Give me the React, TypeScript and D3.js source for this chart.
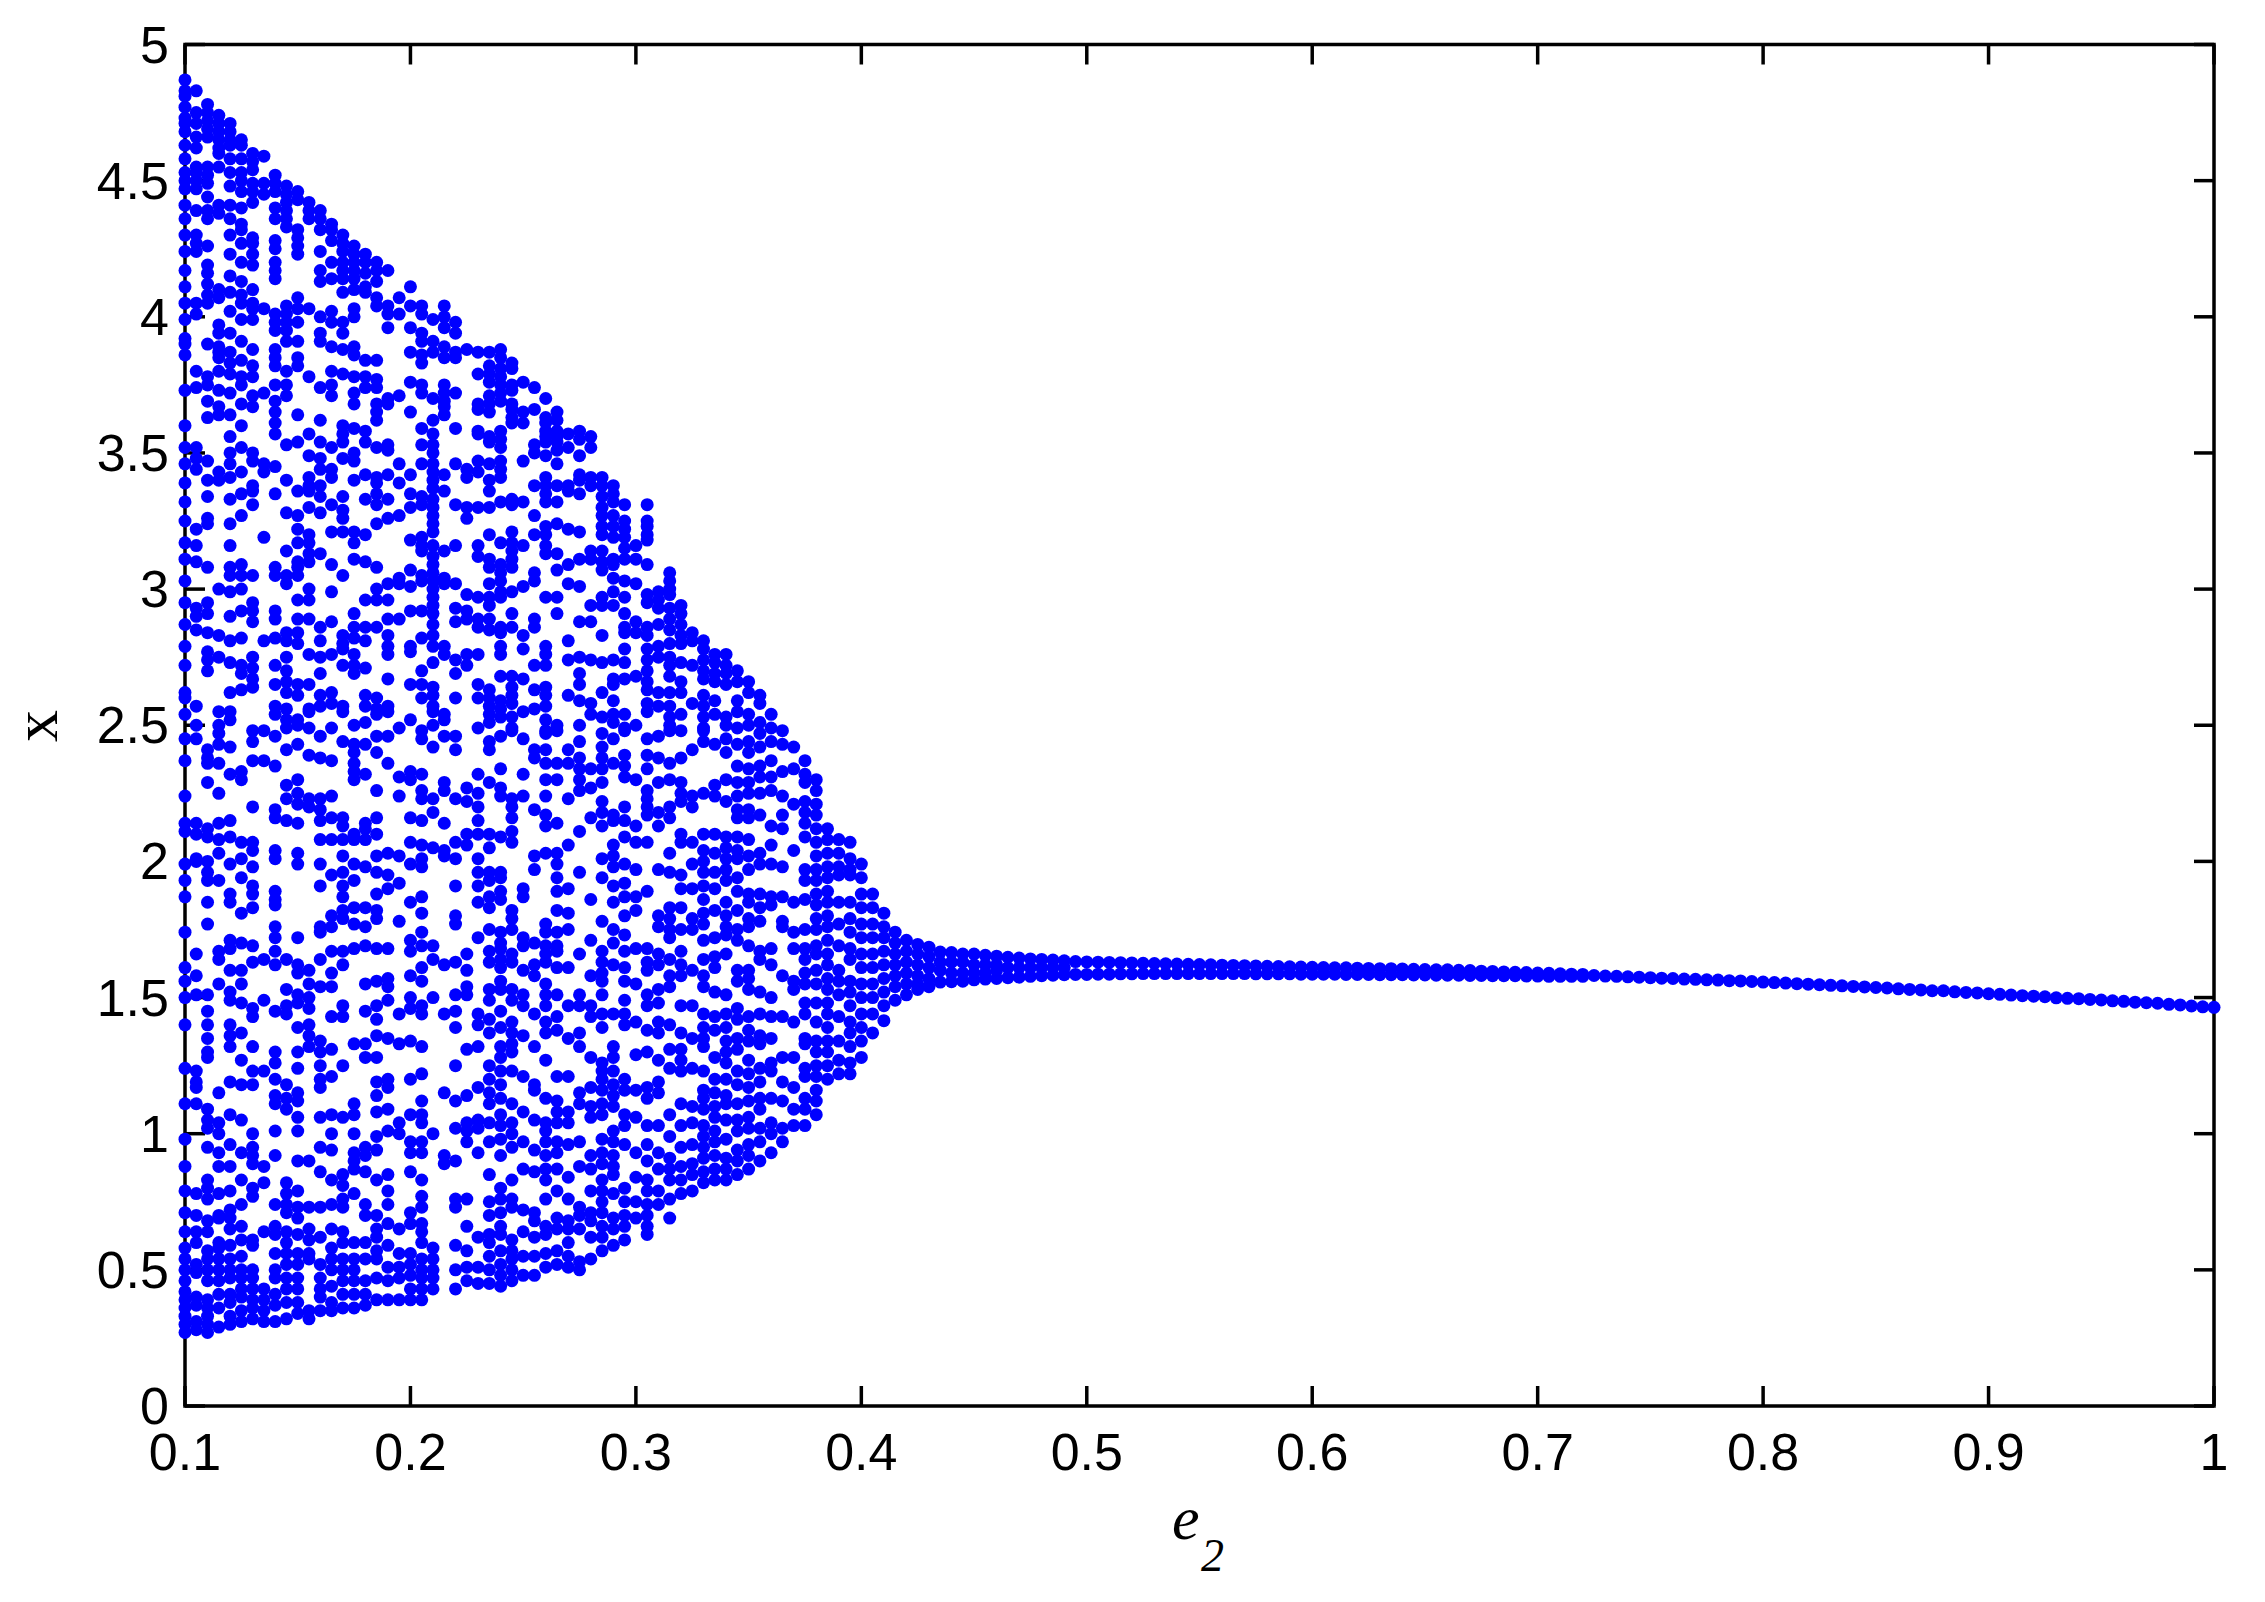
import React from "react";
import * as d3 from "d3";

const xTicks = [0.1, 0.2, 0.3, 0.4, 0.5, 0.6, 0.7, 0.8, 0.9, 1];
const xTickLabels = ["0.1", "0.2", "0.3", "0.4", "0.5", "0.6", "0.7", "0.8", "0.9", "1"];
const yTicks = [0, 0.5, 1, 1.5, 2, 2.5, 3, 3.5, 4, 4.5, 5];
const yTickLabels = ["0", "0.5", "1", "1.5", "2", "2.5", "3", "3.5", "4", "4.5", "5"];
const e2Start = 0.1;
const e2Step = 0.005;

// x attractor samples (x 100), one row per e2 column
const chaoticA: number[][] = [
[487,483,481,477,473,471,468,463,458,453,450,447,441,436,430,424,417,411,405,399,392,390,386,373,360,352,346,339,332,325,317,311,303,295,287,279,272,262,260,254,245,237,224,214,211,199,193,187,174,161,156,150,140,124,111,98,88,79,71,64,58,54,50,46,42,39,36,33,30,27],
[483,475,471,466,462,455,453,450,447,439,430,427,424,405,401,380,374,352,348,344,322,316,310,293,290,285,257,250,245,214,210,201,200,166,158,151,123,119,117,111,78,70,64,60,52,49,40,37,31,28],
[478,475,472,469,466,455,452,449,444,439,436,426,419,416,412,408,405,390,378,375,369,363,347,340,334,326,324,308,295,291,284,277,274,270,241,238,236,229,212,209,200,196,193,185,177,151,145,140,135,130,128,109,105,102,95,83,80,76,68,64,57,54,50,46,39,36,33,30,27],
[474,471,468,465,462,460,455,441,438,410,407,397,394,389,387,385,380,373,367,364,343,340,300,283,275,255,250,247,243,236,225,214,208,203,193,167,164,155,115,104,100,93,88,78,70,69,60,58,54,50,46,41,36,29],
[471,468,465,463,458,453,448,441,436,430,423,415,409,402,394,387,383,379,372,364,356,350,346,341,333,324,316,308,305,299,290,281,273,262,255,252,242,232,215,209,199,188,185,171,168,160,152,149,140,136,132,119,107,96,88,79,72,69,65,59,54,50,47,41,38,33,30],
[465,463,458,453,450,446,440,434,432,427,420,413,408,405,399,391,384,378,375,368,360,352,343,335,327,309,305,300,292,282,272,269,263,233,230,207,201,194,181,170,160,155,148,137,127,118,105,93,83,74,66,61,55,50,47,43,40,35,31],
[460,457,454,449,446,442,429,427,423,419,410,405,403,399,388,382,378,371,367,350,347,338,336,331,305,295,292,288,275,271,267,264,248,244,237,220,207,204,198,191,188,183,169,163,146,143,132,123,118,100,95,92,89,80,77,61,59,50,47,43,39,36,32],
[459,449,445,403,372,346,343,319,281,248,237,164,149,123,88,82,64,43,39,35,31],
[452,449,446,440,436,428,425,420,417,414,401,398,395,388,385,382,375,369,365,361,357,345,335,308,305,292,289,282,272,265,257,254,246,235,219,216,204,201,189,186,184,176,172,167,162,145,130,126,120,114,111,101,92,74,66,63,56,50,47,41,37,31],
[448,445,442,439,436,433,404,401,398,395,391,380,375,371,353,340,328,314,305,302,284,281,275,270,266,262,256,252,249,241,228,223,215,164,153,147,144,118,113,109,82,78,74,71,64,60,56,52,47,43,38,32],
[446,443,432,429,426,423,407,403,398,391,385,382,364,354,336,327,322,317,310,308,305,296,289,284,280,265,261,252,250,243,230,225,221,214,203,199,172,162,159,151,148,139,130,124,115,112,106,101,90,79,73,69,63,56,52,47,43,38,34],
[442,439,436,403,378,357,349,341,338,336,330,320,317,313,310,300,296,289,276,265,256,255,249,239,223,220,160,155,150,146,140,136,132,90,73,65,61,56,54,35,32],
[439,436,432,424,417,413,400,394,391,374,362,354,348,344,338,334,328,313,286,281,275,269,261,257,246,238,223,219,215,208,199,191,176,174,164,154,134,130,125,120,117,106,95,86,73,62,52,47,43,40,35],
[434,432,428,420,414,402,398,389,380,375,371,352,344,341,331,321,309,299,288,276,262,258,249,237,224,216,208,195,180,176,167,159,154,143,131,121,107,100,94,83,74,65,58,54,50,44,38,35],
[430,427,424,420,417,414,409,398,394,388,379,360,357,354,348,334,329,326,321,305,283,280,278,272,257,255,244,216,213,208,202,196,191,187,182,179,167,162,147,143,125,106,85,81,76,73,64,60,54,50,46,41,36],
[426,423,420,417,414,410,403,400,389,386,378,372,368,359,350,347,340,321,317,311,291,286,282,276,272,269,250,243,240,236,233,230,210,208,199,193,183,177,168,133,111,107,100,93,90,87,78,60,54,50,46,41,36],
[423,420,416,411,409,384,378,374,358,354,342,333,320,310,296,286,281,271,261,257,251,243,232,214,212,208,198,183,176,169,155,145,133,128,95,92,86,74,70,60,54,46,41,37],
[420,417,413,407,404,384,377,374,368,365,362,352,341,339,335,331,324,308,300,296,286,260,256,254,246,240,226,216,210,202,196,188,182,179,168,156,147,142,136,128,119,114,108,99,94,83,70,65,62,57,54,47,39],
[417,404,401,396,370,368,353,351,342,333,326,302,296,289,283,279,276,267,257,255,246,236,203,195,190,168,157,154,149,135,120,117,109,101,85,79,74,67,59,51,46,39],
[407,401,371,346,339,327,304,302,289,249,231,224,202,192,178,144,133,104,100,65,56,51,47,39],
[411,404,396,387,376,365,342,335,330,318,307,301,292,279,277,265,252,233,230,216,207,199,185,171,167,158,150,146,134,120,107,97,93,86,71,67,56,52,48,43,39],
[404,401,394,391,386,383,375,372,359,353,346,334,331,319,316,314,305,303,292,282,270,265,260,248,245,232,226,223,215,206,201,198,187,181,174,169,161,156,147,144,132,122,112,107,104,97,93,83,77,73,67,64,60,54,50,47,43,39],
[399,391,387,370,362,357,353,350,346,343,340,337,333,330,327,324,321,316,312,309,306,303,300,297,294,291,287,283,279,273,264,261,257,255,250,242,223,218,205,169,164,150,100,58,54,50,47,43],
[404,400,396,389,385,375,372,369,367,364,342,336,314,304,302,279,276,254,252,246,229,226,214,204,202,162,144,115,92,89],
[398,394,387,385,372,359,346,331,316,302,293,288,274,269,260,246,241,223,207,201,191,180,177,163,151,145,139,125,112,102,90,76,73,59,50,43],
[388,344,341,330,326,298,292,289,276,272,227,222,210,206,166,160,154,151,131,114,104,101,97,76,66,57,51,46],
[387,379,368,366,358,357,347,343,330,316,312,297,289,286,276,265,260,249,232,225,220,215,210,201,196,191,185,172,144,140,132,117,105,102,93,62,51,45],
[387,382,379,376,371,368,365,356,354,346,340,336,330,320,311,308,302,297,294,289,285,263,260,257,254,251,244,241,229,210,205,196,193,187,183,175,167,163,153,149,142,137,125,120,115,111,104,97,85,75,70,63,60,55,50,45],
[388,385,381,378,375,372,369,358,355,352,347,344,341,332,317,309,306,303,299,297,286,284,279,276,268,259,256,253,246,234,227,224,209,196,194,189,186,174,170,168,164,161,156,153,145,139,132,128,123,118,113,107,103,98,92,80,76,71,66,63,57,52,48,44],
[383,381,375,373,368,366,363,361,333,331,321,317,314,311,308,299,291,286,268,264,261,258,253,249,248,223,220,216,211,207,182,179,175,166,163,153,149,141,137,133,130,123,111,104,100,95,83,76,73,61,57,54,50,46],
[376,365,361,347,332,316,301,283,278,267,255,245,232,224,190,187,172,169,160,151,147,136,121,108,97,87,72,64,55,48],
[374,366,353,350,338,327,320,306,303,289,286,272,263,256,241,238,219,202,197,170,162,158,144,132,118,116,105,94,86,71,68,62,55,48],
[370,363,361,358,356,354,349,341,338,335,332,323,320,316,313,297,279,276,272,264,261,257,252,248,247,241,236,230,224,217,213,203,177,174,169,166,163,155,151,147,141,137,127,113,104,101,97,92,87,83,76,66,63,56,51],
[365,362,358,356,354,351,346,338,332,324,313,307,297,291,250,248,236,230,214,203,199,194,189,182,174,169,167,161,151,143,138,121,112,108,104,97,93,87,79,69,65,57,52],
[357,352,338,336,322,309,302,281,274,261,241,236,223,206,190,181,175,161,147,135,121,108,104,96,84,76,68,65,60,55,51],
[358,355,349,342,340,335,321,311,301,288,275,269,265,259,250,244,238,234,230,226,211,196,166,151,147,137,132,115,111,97,88,73,70,65,53,50],
];

const chaoticB: number[][] = [
[356,352,341,338,314,311,294,288,274,258,254,234,227,216,186,171,158,147,143,128,117,110,106,92,87,79,71,68,62,54],
[341,338,334,330,327,323,320,314,310,307,297,294,283,273,262,253,247,242,238,234,229,222,218,213,201,194,178,167,163,159,156,151,144,139,126,123,120,116,111,107,98,93,89,83,79,75,71,66,62,57],
[338,335,332,327,323,319,311,309,304,299,294,274,267,265,259,254,251,245,236,217,215,206,202,198,191,185,175,170,162,144,132,128,123,118,114,110,101,97,92,88,85,78,69,65,59],
[331,325,322,319,315,311,303,297,291,286,284,278,273,267,254,249,248,239,235,231,220,215,209,199,192,187,180,173,167,161,156,149,144,140,120,116,107,103,96,80,75,70,66,61],
[316,311,302,288,284,268,250,230,213,207,197,187,182,168,155,141,129,116,106,93,84,75,69],
[331,325,323,320,318,309,298,295,286,283,278,274,270,266,263,258,255,245,239,234,226,223,220,217,207,189,168,163,160,151,147,138,130,117,113,103,96,90,83,79,74,70,66,63],
[299,296,293,287,279,275,262,257,246,238,229,218,213,197,180,176,166,162,153,148,141,137,127,119,115,103,93,87,79,74],
[306,303,300,298,293,289,285,280,275,272,268,262,257,253,250,248,236,230,220,216,203,196,183,179,175,172,164,158,154,140,131,124,107,99,91,87,83,76,69],
[294,291,287,283,280,273,266,262,254,248,238,229,225,222,210,207,195,190,183,175,167,162,158,147,137,131,127,123,111,103,95,88,83,78],
[284,281,272,258,241,224,220,207,199,190,179,175,160,147,135,124,110,104,96,89,85,79],
[281,278,274,270,267,261,257,253,249,248,244,225,210,204,200,196,191,186,181,177,171,164,158,154,144,139,135,132,123,116,113,109,103,99,95,91,86,82],
[276,273,269,266,259,254,243,228,224,210,203,196,190,182,172,165,161,152,143,138,128,120,115,110,106,101,97,92,87,83],
[276,272,269,265,253,250,245,240,230,222,209,205,201,197,193,185,180,176,173,166,151,144,139,134,130,126,120,114,111,105,98,91,87,83],
[270,266,259,255,249,243,235,229,224,219,216,209,204,201,194,189,182,175,171,160,156,146,142,135,131,123,118,111,105,101,94,90,85],
[266,262,254,250,244,240,234,229,225,219,216,208,202,197,188,185,179,176,169,160,157,153,143,138,134,127,122,117,112,106,102,96,92,87],
[261,258,251,247,242,235,231,225,217,203,199,188,183,178,167,164,152,144,136,133,124,119,113,109,102,97,90],
[254,249,244,237,231,226,213,206,199,187,184,168,162,150,143,135,126,123,113,104,100,93],
[248,243,233,224,217,212,198,187,178,176,158,143,128,119,112,102,97],
[242,234,221,204,185,174,168,156,153,141,128,117,109,103],
[237,232,229,222,218,214,209,197,193,186,175,168,164,159,155,148,144,135,133,124,121,113,109,103],
[230,226,221,217,212,207,202,197,193,188,184,179,175,169,166,160,155,148,141,134,130,125,121,116,112,107],
[212,208,203,198,194,189,185,180,176,171,166,162,157,153,148,144,139,134,130,125,120],
[208,203,198,195,185,177,169,160,156,151,143,134,127,122],
[207,201,197,195,185,179,174,168,164,156,152,147,141,137,132,126,122],
[199,194,188,183,177,172,166,161,155,150,144,139,134,128],
[188,183,177,172,166,161,155,150,144,137],
[181,176,172,167,162,157,152,147,141.5],
[174,170,166,162,158,154,149],
[171,167,163,159,155,151],
[169.5,166,162,158,155,153],
[168.5,165,161,157,154],
[166.7,163,160,155.7],
[166.5,163,159,155.8],
[166,163,159,156],
[166,162,159,156.5],
[165.5,162,159,156.8],
[165.2,162,160,157],
];

const narrowBand: number[][] = [
[164.8,161,157.3],[164.5,161,157.5],[164.2,161,157.8],[164,161,158],[163.8,161,158.2],[163.5,161,158.4],
[163.2,158.5],[163.1,158.5],[163,158.6],[162.9,158.6],[162.8,158.7],[162.7,158.7],[162.6,158.8],[162.5,158.8],[162.4,158.8],
[162.3,158.8],[162.2,158.8],[162.1,158.8],[162,158.8],[161.9,158.8],[161.8,158.8],[161.7,158.8],[161.6,158.7],[161.5,158.7],
[161.4,158.7],[161.3,158.7],[161.2,158.6],[161.1,158.6],[161,158.6],[160.9,158.6],[160.9,158.5],[160.8,158.5],[160.7,158.5],
[160.6,158.4],[160.6,158.4],[160.5,158.4],[160.4,158.3],[160.3,158.3],[160.2,158.2],[160.2,158.2],[160,158.2],[159.9,158.1],
[159.7,158.1],[159.6,158],[159.4,158],[159.3,158],[159.2,157.9],[159,157.9],[158.9,157.8],[158.7,157.8],[158.6,157.8],[158.5,157.8],
];

const singleBranch: number[] = [
158.1,157.9,157.8,157.6,157.5,157.3,157.1,157,156.8,156.7,
156.5,156.4,156.2,156.1,155.9,155.7,155.5,155.3,155.1,154.9,
154.7,154.5,154.3,154.1,153.9,153.7,153.5,153.2,153,152.8,
152.5,152.5,152.1,151.9,151.7,151.4,151.2,150.9,150.7,150.5,150.3,
149.9,149.7,149.6,149.3,149.1,148.8,148.6,148.3,148.1,147.9,
147.5,147.3,146.9,146.6,146.4,
];

const columns: number[][] = [
  ...chaoticA,
  ...chaoticB,
  ...narrowBand,
  ...singleBranch.map((v) => [v]),
];

const left = 185;
const right = 2214;
const top = 44.5;
const bottom = 1406;
const BLUE = "#0000ff";
const TICK = 20;
const SANS = "'Liberation Sans', Arial, sans-serif";
const SERIF = "'Liberation Serif', 'Times New Roman', serif";

export default function App() {
  const x = d3.scaleLinear().domain([0.1, 1]).range([left, right]);
  const y = d3.scaleLinear().domain([0, 5]).range([bottom, top]);
  const colX = (i: number) => x(e2Start + i * e2Step);
  return (
    <svg
      width={2265}
      height={1602}
      style={{ position: "absolute", left: 0, top: 0, background: "#fff", display: "block" }}
    >
      <rect x={left} y={top} width={right - left} height={bottom - top} fill="none" stroke="#000" strokeWidth={3.5} />
      {xTicks.map((t, i) => (
        <g key={"x" + i}>
          <line x1={x(t)} x2={x(t)} y1={bottom} y2={bottom - TICK} stroke="#000" strokeWidth={3.5} />
          <line x1={x(t)} x2={x(t)} y1={top} y2={top + TICK} stroke="#000" strokeWidth={3.5} />
          <text x={x(t)} y={1470} textAnchor="middle" fontFamily={SANS} fontSize={52} fill="#000">
            {xTickLabels[i]}
          </text>
        </g>
      ))}
      {yTicks.map((t, i) => (
        <g key={"y" + i}>
          <line x1={left} x2={left + TICK} y1={y(t)} y2={y(t)} stroke="#000" strokeWidth={3.5} />
          <line x1={right} x2={right - TICK} y1={y(t)} y2={y(t)} stroke="#000" strokeWidth={3.5} />
          <text x={169} y={y(t) + 18} textAnchor="end" fontFamily={SANS} fontSize={52} fill="#000">
            {yTickLabels[i]}
          </text>
        </g>
      ))}
      <g fill={BLUE}>
        {columns.map((col, i) =>
          col.map((v, j) => <circle key={i + "-" + j} cx={colX(i)} cy={y(v / 100)} r={6.5} />)
        )}
      </g>
      <text x={1172} y={1539} fontFamily={SERIF} fontStyle="italic" fontSize={62} fill="#000">e</text>
      <text x={1201} y={1571} fontFamily={SERIF} fontStyle="italic" fontSize={46} fill="#000">2</text>
      <text
        transform="translate(57,726) rotate(-90)"
        textAnchor="middle"
        fontFamily={SERIF}
        fontSize={64}
        fill="#000"
      >
        x
      </text>
    </svg>
  );
}
